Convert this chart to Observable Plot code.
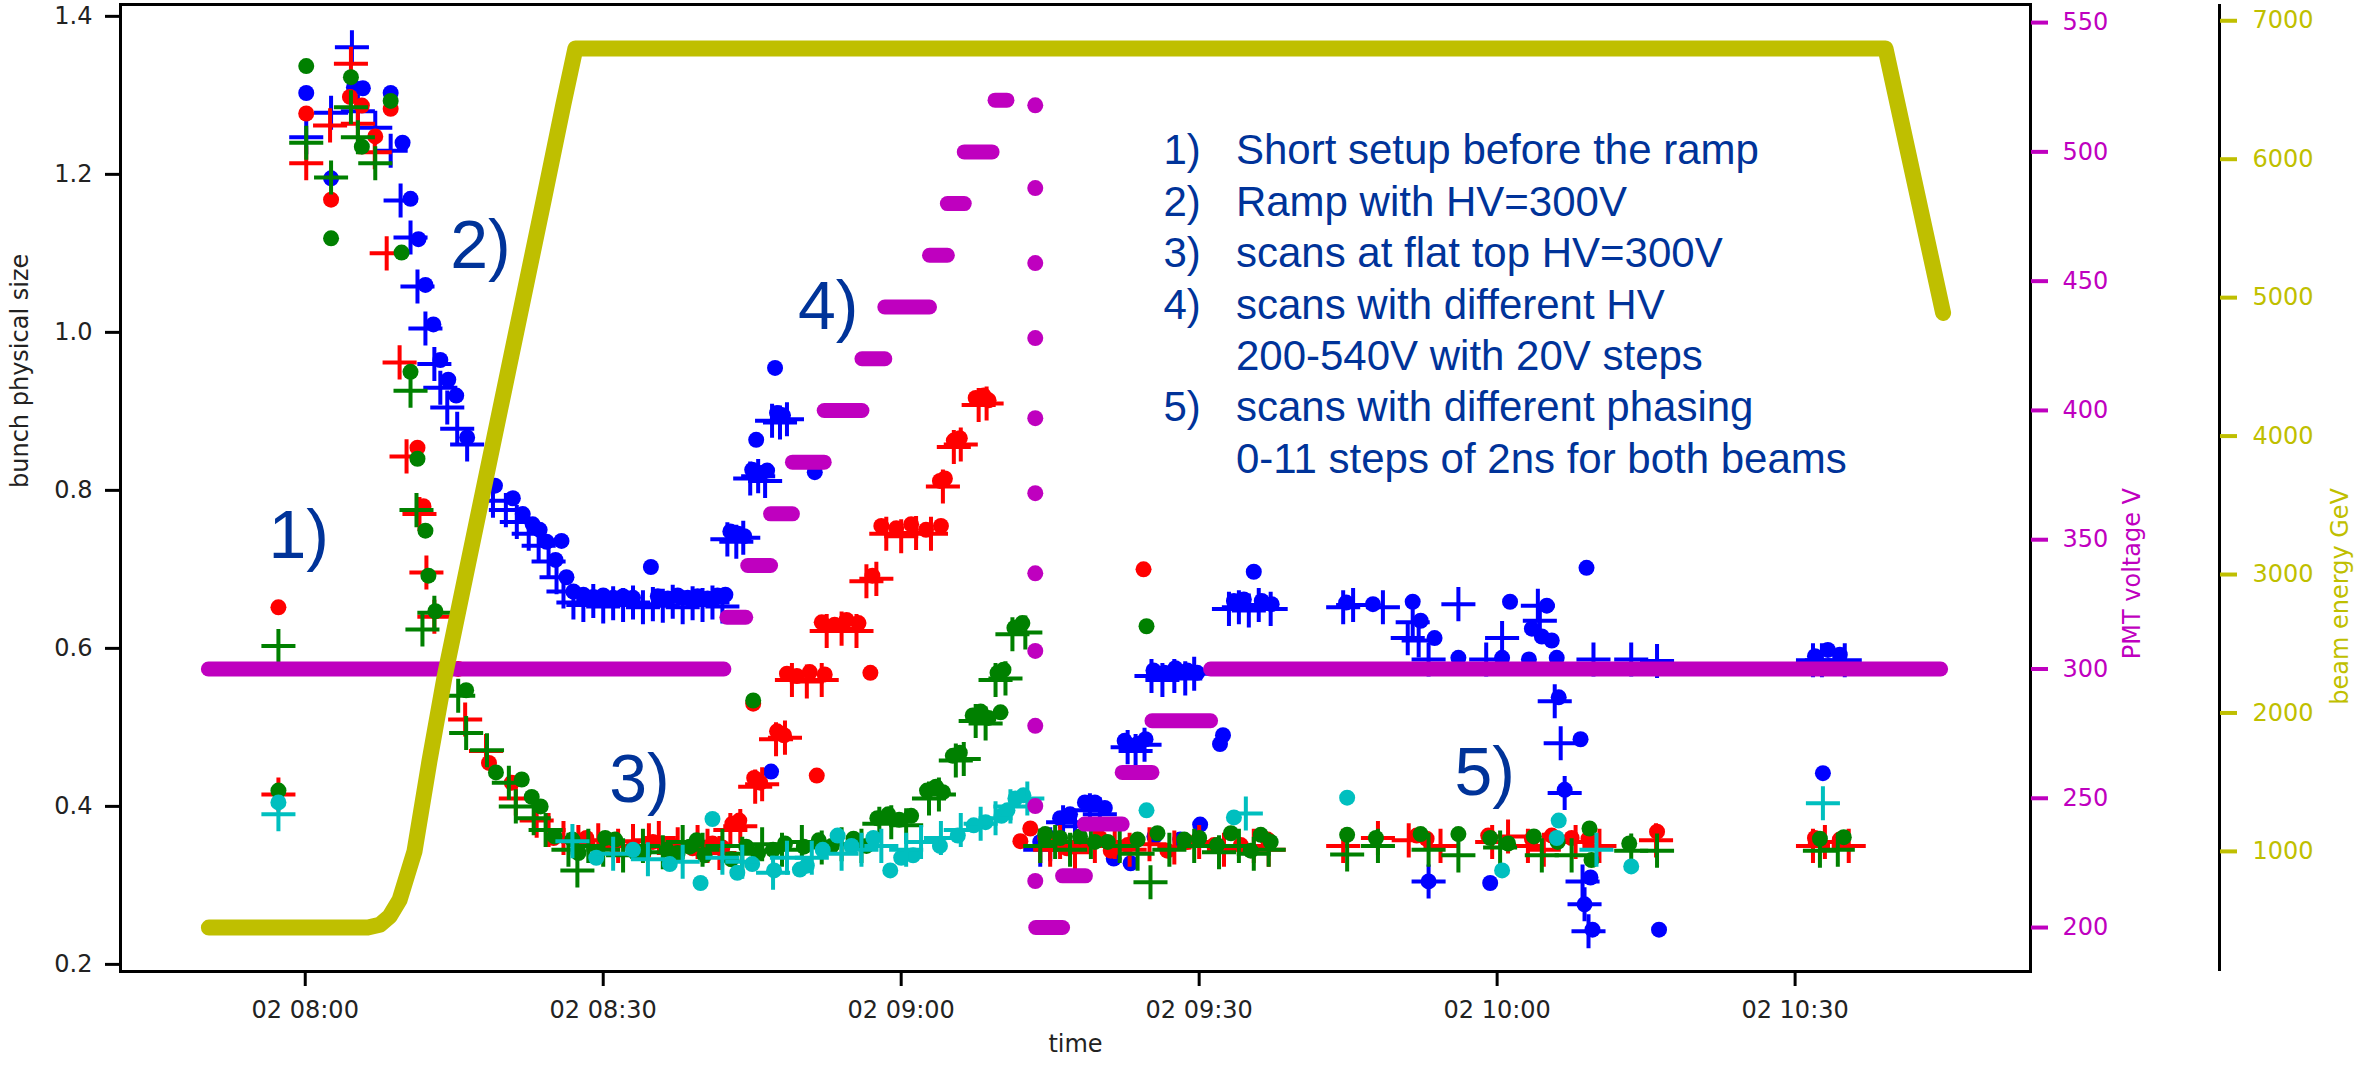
<!DOCTYPE html>
<html><head><meta charset="utf-8">
<script src="https://cdn.jsdelivr.net/npm/d3@7"></script>
<script src="https://cdn.jsdelivr.net/npm/@observablehq/plot@0.6"></script>
<style>html,body{margin:0;padding:0;background:#fff}</style>
</head><body><div id="chart"></div>
<script>
// ---- data: [minutes after 08:00, value] ----
const blueCircles = [[0.1,1.303],[2.6,1.195],[4.9,1.31],[5.8,1.309],[8.6,1.303],[9.8,1.24],
 [10.6,1.169],[11.4,1.118],[12.1,1.06],[12.9,1.01],[13.6,0.965],[14.4,0.94],[15.2,0.92],[16.3,0.867],
 [19.1,0.806],[20.9,0.79],[21.9,0.77],[22.9,0.757],[23.6,0.75],[24.3,0.735],[25.2,0.712],[25.8,0.736],[26.3,0.69],
 [27,0.672],[28,0.668],[29,0.665],[30,0.667],[31,0.664],[32,0.666],[33,0.664],[34.8,0.703],[35.5,0.666],[36.5,0.663],
 [37.5,0.667],[38.5,0.664],[39.5,0.666],[40.5,0.663],[41.5,0.667],[42.3,0.668],
 [42.8,0.748],[43.6,0.745],[44.2,0.742],[45,0.826],[45.4,0.864],[45.9,0.822],[46.5,0.825],
 [47.3,0.955],[47.5,0.898],[48.1,0.895],[46.9,0.444],[51.3,0.823],
 [74,0.355],[75,0.36],[76,0.385],[77,0.39],[78.5,0.405],[79.5,0.405],[80.5,0.398],[81.4,0.334],[83.1,0.328],
 [82.5,0.483],[83.8,0.479],[84.6,0.485],[85.4,0.572],[86.5,0.569],[87.6,0.575],[88.8,0.572],[89.8,0.569],
 [85.5,0.362],[88.1,0.358],[90.1,0.377],[92.1,0.479],[92.4,0.49],[93.5,0.66],[94.5,0.662],[95.5,0.697],[96.3,0.66],[97.3,0.656],
 [104.8,0.658],[107.5,0.656],[111.5,0.659],[112.3,0.635],[113.7,0.613],[116.1,0.588],[121.3,0.659],[120.5,0.588],
 [123.2,0.586],[123.5,0.625],[124.5,0.615],[125.5,0.61],[125,0.654],[126,0.588],[126.2,0.538],[128.4,0.485],[126.8,0.421],
 [129.4,0.31],[128.8,0.276],[129.6,0.244],[129,0.702],[136.3,0.244],[119.3,0.303],[113.1,0.305],
 [152,0.59],[153.3,0.598],[154.5,0.592],[152.8,0.442]];
const bluePluses = [[0.1,1.247],[2.6,1.278],[4.7,1.361],[5.3,1.28],[7.05,1.259],[8.6,1.23],
 [9.6,1.167],[10.6,1.12],[11.3,1.058],[12.1,1.005],[13,0.96],[13.6,0.93],[14.3,0.905],[15.3,0.878],[16.3,0.858],
 [18.9,0.787],[20.2,0.775],[21.3,0.76],[22.5,0.745],[23.5,0.73],[24.5,0.71],[25.3,0.69],[26,0.672],
 [27,0.658],[28,0.655],[29,0.66],[30,0.653],[31,0.657],[32,0.655],[33,0.658],[34,0.652],[35,0.656],[36,0.654],
 [37,0.659],[38,0.652],[39,0.657],[40,0.655],[41,0.658],[42,0.653],
 [42.5,0.738],[43.4,0.735],[44.1,0.74],[44.8,0.815],[45.6,0.818],[46.3,0.812],[47,0.888],[47.8,0.886],[48.5,0.89],
 [74,0.345],[75,0.352],[76.3,0.38],[77.5,0.375],[79,0.395],[80,0.39],[82.8,0.475],[83.6,0.47],[84.5,0.478],
 [85.2,0.565],[86.3,0.56],[87.5,0.565],[88.6,0.562],[89.5,0.568],[93,0.65],[94,0.652],[95,0.648],[96,0.655],[97.2,0.65],
 [104.5,0.652],[105.5,0.655],[108.5,0.652],[111,0.613],[111.5,0.633],[112.1,0.61],[113.1,0.586],[113.1,0.305],
 [116.1,0.656],[118.9,0.586],[120.5,0.613],[124.1,0.654],[124.3,0.635],[125.8,0.533],[126.4,0.48],[126.8,0.417],
 [128.6,0.305],[128.8,0.276],[129.2,0.242],[129.7,0.586],[133.5,0.586],[136.1,0.584],
 [151.8,0.585],[152.7,0.585],[155,0.585]];
const redCircles = [[-2.7,0.652],[0.1,1.277],[2.6,1.168],[4.5,1.298],[5.7,1.287],[7.05,1.248],[8.6,1.283],
 [11.3,0.854],[11.9,0.78],[15.4,0.574],[18.5,0.455],[20.8,0.43],[25,0.36],
 [28.3,0.36],[31,0.352],[33,0.348],[35,0.355],[37,0.35],[39,0.347],[41,0.353],[42,0.348],
 [43,0.378],[43.7,0.382],[45.2,0.436],[45.8,0.43],[45.1,0.53],[47.5,0.495],[48.2,0.49],
 [48.5,0.568],[49.5,0.565],[50.8,0.57],[52.3,0.567],[51.5,0.439],[52,0.633],[53.3,0.63],[54.5,0.636],[55.7,0.632],
 [56.9,0.569],[57.1,0.692],[58,0.755],[59.5,0.752],[61,0.757],[62.5,0.75],[64,0.755],[63.9,0.812],[64.4,0.815],
 [65.3,0.863],[65.9,0.866],[67.5,0.917],[68.3,0.92],[68.8,0.914],[72,0.356],[73,0.372],
 [74.5,0.36],[75.5,0.352],[76.7,0.347],[78.4,0.351],[80,0.36],[81.1,0.344],[82.8,0.351],[84.4,0.70],
 [86.8,0.344],[88.8,0.355],[91.5,0.351],[94.2,0.351],[96.9,0.358],
 [111.9,0.363],[112.9,0.359],[119.1,0.363],[123.5,0.359],[125.5,0.363],[127.5,0.36],[129.2,0.359],[136.1,0.368],
 [152,0.36],[154.5,0.358]];
const redPluses = [[-2.7,0.415],[0.1,1.214],[2.5,1.262],[4.6,1.34],[5.3,1.264],[7,1.228],
 [8.2,1.10],[9.5,0.962],[10.2,0.843],[11.5,0.77],[12.2,0.696],[13,0.64],[16.1,0.51],[18.2,0.47],[21.2,0.41],[23.3,0.382],[24.5,0.37],
 [26,0.36],[27.5,0.355],[29.5,0.357],[31.5,0.35],[33,0.356],[34.6,0.357],[35.6,0.36],[37.5,0.352],[39.5,0.355],[40.5,0.35],[41.7,0.341],
 [42.8,0.37],[43.8,0.375],[45.3,0.425],[46,0.428],[47.4,0.485],[48.3,0.487],[49,0.56],[50.5,0.558],[52,0.56],
 [52.5,0.622],[54,0.625],[55.5,0.622],[56.5,0.685],[57.5,0.688],[58.5,0.745],[60,0.742],[61.5,0.746],[63,0.745],
 [64.2,0.805],[65.3,0.855],[66,0.858],[67.8,0.908],[68.6,0.91],
 [74,0.35],[75,0.345],[76,0.355],[77.5,0.342],[79.5,0.35],[81.5,0.355],[83,0.345],[85,0.352],[87.5,0.348],[90,0.355],[92.5,0.345],[95.5,0.35],[97,0.345],
 [104.5,0.35],[108,0.36],[111.1,0.357],[114.3,0.35],[119.5,0.355],[121.1,0.362],[123.1,0.35],[124.7,0.345],[127.9,0.355],[130.3,0.35],[136,0.357],
 [151.8,0.35],[153,0.355],[155.4,0.35]];
const greenCircles = [[-2.7,0.42],[0.1,1.337],[2.6,1.119],[4.6,1.323],[5.7,1.235],[8.6,1.293],[9.7,1.101],
 [10.6,0.95],[11.3,0.84],[12.1,0.749],[12.4,0.692],[13.1,0.647],[16.2,0.547],[19.2,0.443],[21.8,0.434],[22.8,0.412],[23.7,0.4],[25.1,0.362],
 [26.9,0.358],[27.5,0.341],[30.2,0.36],[31.2,0.358],[33.3,0.341],[34.1,0.343],[36.4,0.345],[37.5,0.341],[38.7,0.349],[39.4,0.357],
 [40.2,0.338],[42.9,0.333],[44.4,0.349],[45.6,0.341],[47.1,0.345],[48.3,0.353],[50.2,0.349],[51.7,0.357],[53,0.35],[55.2,0.359],[56.5,0.35],
 [45.1,0.534],[57.6,0.385],[58.7,0.39],[59.8,0.383],[61,0.388],[62.6,0.42],[63.5,0.425],[64.2,0.418],[65.2,0.464],[65.9,0.468],
 [67.2,0.515],[68,0.52],[68.8,0.512],[69.7,0.569],[70.3,0.573],[70,0.519],[71.4,0.626],[72.2,0.632],
 [74.5,0.365],[76,0.36],[78,0.362],[79.5,0.355],[80.8,0.355],[83.8,0.358],[84.7,0.628],[85.8,0.366],[88.5,0.358],[90,0.36],
 [91.8,0.351],[93.2,0.366],[95.2,0.344],[96.2,0.364],[97.2,0.355],
 [104.9,0.364],[107.8,0.36],[112.3,0.365],[116.1,0.365],[119.3,0.36],[121.1,0.353],[123.7,0.362],[126.1,0.355],[129.3,0.372],[129.5,0.332],[133.3,0.353],
 [152.5,0.359],[154.9,0.361]];
const greenPluses = [[-2.7,0.603],[0.1,1.24],[2.6,1.196],[4.6,1.285],[5.3,1.247],[7.05,1.214],
 [10.6,0.926],[11.2,0.775],[11.8,0.624],[13,0.645],[15.4,0.54],[16.2,0.493],[18.3,0.471],[20.5,0.43],[21.2,0.4],[23,0.385],[24.2,0.37],[27.4,0.319],
 [26.5,0.345],[28.5,0.35],[30,0.345],[32,0.338],[34,0.35],[36,0.342],[38,0.355],[40,0.345],[42,0.35],[44,0.34],[46,0.352],[48,0.345],[50,0.355],[52,0.348],[54,0.352],[56,0.35],
 [57.8,0.378],[59,0.38],[60.5,0.376],[62.8,0.41],[63.8,0.415],[65.5,0.458],[66.3,0.46],[67.5,0.508],[68.5,0.505],[69.5,0.56],[70.5,0.562],[71.2,0.618],[72.5,0.62],
 [74,0.35],[75.5,0.355],[77,0.345],[79.1,0.355],[82,0.35],[83.8,0.34],[85.1,0.304],[87,0.345],[89.5,0.35],[92,0.342],[94,0.35],[95.5,0.34],[97,0.345],
 [104.9,0.339],[108,0.35],[113.1,0.345],[116.1,0.338],[120.3,0.348],[124.5,0.338],[127.5,0.338],[133.5,0.344],[136.1,0.344],
 [152.5,0.344],[154.3,0.345]];
const cyanCircles = [[-2.7,0.405],[29.3,0.335],[33,0.345],[36.7,0.327],[39.8,0.303],[41,0.384],[43.5,0.316],[45,0.327],[47.2,0.319],
 [49.8,0.32],[50.5,0.325],[52.1,0.345],[53.6,0.363],[55,0.35],[57.2,0.36],[58.9,0.319],[60,0.335],[61.2,0.338],[63.9,0.35],
 [65.7,0.363],[67.3,0.376],[68.5,0.38],[70.1,0.388],[70.7,0.395],[71.5,0.41],[72.3,0.414],
 [84.7,0.395],[93.5,0.386],[104.9,0.411],[120.5,0.319],[126,0.36],[126.2,0.382],[133.5,0.324]];
const cyanPluses = [[-2.7,0.39],[26.9,0.356],[31,0.34],[34.5,0.333],[38,0.33],[42,0.335],[44,0.33],[47.1,0.316],[48.5,0.335],
 [51,0.335],[54,0.34],[56,0.345],[58,0.35],[60.5,0.345],[62,0.355],[64,0.36],[66,0.37],[68,0.378],[69.5,0.385],[71,0.4],[72.7,0.41],
 [94.7,0.391],[130,0.345],[152.8,0.404]];
// PMT high voltage steps: [start min, end min, volts]
const hvSteps = [[-9.7,42.2,300],[42.5,44.4,320],[44.6,46.9,340],[46.9,49.1,360],[49.1,52.3,380],[52.3,56.1,400],
 [56.1,58.4,420],[58.4,62.9,440],[62.9,64.7,460],[64.7,66.4,480],[66.4,69.2,500],[69.5,70.7,520],[71.2,72.7,540],
 [73.6,76.3,200],[76.3,78.6,220],[78.5,82.3,240],[82.3,85.3,260],[85.3,91.2,280],[91.2,164.7,300]];
const hvDrop = [[73.5,518],[73.5,486],[73.5,457],[73.5,428],[73.5,397],[73.5,368],[73.5,337],[73.5,307],[73.5,278],[73.5,247],[73.5,218]];
// beam energy GeV
const energy = [[-9.7,450],[6.3,450],[7.5,470],[8.5,530],[9.5,650],[11,1000],[12.5,1650],[14,2250],[16.5,3115],
 [20.4,4461],[24,5700],[26,6400],[27.2,6800],[159.1,6800],[164.9,4890]];
const xTicks = [0, 30, 60, 90, 120, 150];
const yTicks = [0.2, 0.4, 0.6, 0.8, 1.0, 1.2, 1.4];
const pmtTicks = [200, 250, 300, 350, 400, 450, 500, 550];
const energyTicks = [1000, 2000, 3000, 4000, 5000, 6000, 7000];
const listNums = ["1)", "2)", "3)", "4)", "", "5)", ""];
const listLines = ["Short setup before the ramp", "Ramp with HV=300V", "scans at flat top HV=300V",
 "scans with different HV", "200-540V with 20V steps", "scans with different phasing", "0-11 steps of 2ns for both beams"];
const bigLabels = [["1)", -3.7, 0.715], ["2)", 14.6, 1.082], ["3)", 30.6, 0.406], ["4)", 49.6, 1.004], ["5)", 115.7, 0.414]];

// ---- scales ----
const T0 = Date.UTC(2022, 7, 2, 8, 0, 0);
const toDate = m => new Date(T0 + m * 60000);
const yDomain = [0.191, 1.415];
const pmtDomain = [183, 557];
const eDomain = [132.5, 7117.5];
const fwd = dom => v => yDomain[0] + (v - dom[0]) / (dom[1] - dom[0]) * (yDomain[1] - yDomain[0]);
const inv = dom => y => dom[0] + (y - yDomain[0]) / (yDomain[1] - yDomain[0]) * (dom[1] - dom[0]);
const pmtY = fwd(pmtDomain), pmtInv = inv(pmtDomain);
const eY = fwd(eDomain), eInv = inv(eDomain);

const C = {b: "#0000ff", r: "#ff0000", g: "#008000", c: "#00bfbf", m: "#bf00bf", y: "#bfbf00", t: "#003399"};
const X = d => toDate(d[0]), Y = d => d[1];
const circ = (data, col) => Plot.dot(data, {x: X, y: Y, r: 8, fill: col});
const plus = (data, col) => Plot.dot(data, {x: X, y: Y, r: 11, symbol: "plus", stroke: col, strokeWidth: 4});
const xMax = toDate(173.7);

const chart = Plot.plot({
  width: 2356, height: 1065,
  marginLeft: 120, marginRight: 326, marginTop: 4, marginBottom: 94,
  style: {fontFamily: "'DejaVu Sans', sans-serif", fontSize: "24px", background: "white", overflow: "visible"},
  x: {type: "utc", domain: [toDate(-18.6), xMax]},
  y: {domain: yDomain},
  marks: [
    circ(blueCircles, C.b), plus(bluePluses, C.b),
    circ(redCircles, C.r), plus(redPluses, C.r),
    circ(greenCircles, C.g), plus(greenPluses, C.g),
    circ(cyanCircles, C.c), plus(cyanPluses, C.c),
    Plot.ruleY(hvSteps, {x1: d => toDate(d[0]), x2: d => toDate(d[1]), y: d => pmtY(d[2]), stroke: C.m, strokeWidth: 15, strokeLinecap: "round"}),
    Plot.dot(hvDrop, {x: X, y: d => pmtY(d[1]), r: 8, fill: C.m}),
    Plot.line(energy, {x: X, y: d => eY(d[1]), stroke: C.y, strokeWidth: 16, strokeLinecap: "round", strokeLinejoin: "round"}),
    Plot.frame({stroke: "black", strokeWidth: 3}),
    Plot.axisX(xTicks.map(toDate), {tickFormat: d3.utcFormat("%d %H:%M"), tickSize: 15, tickPadding: 14, strokeWidth: 3, fontSize: 24, fill: "#222", label: null}),
    Plot.axisY(yTicks, {anchor: "left", tickFormat: d3.format(".1f"), tickSize: 15, tickPadding: 13, strokeWidth: 3, fontSize: 24, fill: "#222", label: null}),
    Plot.axisY(pmtTicks.map(pmtY), {anchor: "right", tickFormat: d => String(Math.round(pmtInv(d))), tickSize: 17, tickPadding: 15, stroke: C.m, fill: C.m, strokeWidth: 4, fontSize: 24, label: null}),
    Plot.ruleX([xMax], {dx: 189, stroke: "black", strokeWidth: 3}),
    Plot.axisY(energyTicks.map(eY), {anchor: "right", dx: 189, tickFormat: d => String(Math.round(eInv(d))), tickSize: 17, tickPadding: 16, stroke: C.y, fill: C.y, strokeWidth: 4, fontSize: 24, label: null}),
    Plot.text(["bunch physical size"], {text: d => d, frameAnchor: "left", dx: -100, rotate: -90, fontSize: 24, fill: "#222"}),
    Plot.text(["time"], {text: d => d, frameAnchor: "bottom", dy: 80, fontSize: 24, fill: "#222"}),
    Plot.text(["PMT voltage V"], {text: d => d, frameAnchor: "right", dx: 102, rotate: -90, fontSize: 24, fill: C.m}),
    Plot.text(["beam energy GeV"], {text: d => d, frameAnchor: "right", dx: 310, rotate: -90, fontSize: 24, fill: C.y}),
    Plot.text(bigLabels, {x: d => toDate(d[1]), y: d => d[2], text: d => d[0], textAnchor: "start", lineAnchor: "bottom", fontSize: 68, fontFamily: "'Liberation Sans', Arial, sans-serif", fill: C.t}),
    Plot.text(listNums, {x: () => toDate(86.4), y: (d, i) => 1.2125 - i * 0.06506, text: d => d, textAnchor: "start", lineAnchor: "bottom", fontSize: 42, fontFamily: "'Liberation Sans', Arial, sans-serif", fill: C.t}),
    Plot.text(listLines, {x: () => toDate(93.7), y: (d, i) => 1.2125 - i * 0.06506, text: d => d, textAnchor: "start", lineAnchor: "bottom", fontSize: 42, fontFamily: "'Liberation Sans', Arial, sans-serif", fill: C.t})
  ]
});
document.getElementById("chart").appendChild(chart);
</script></body></html>
